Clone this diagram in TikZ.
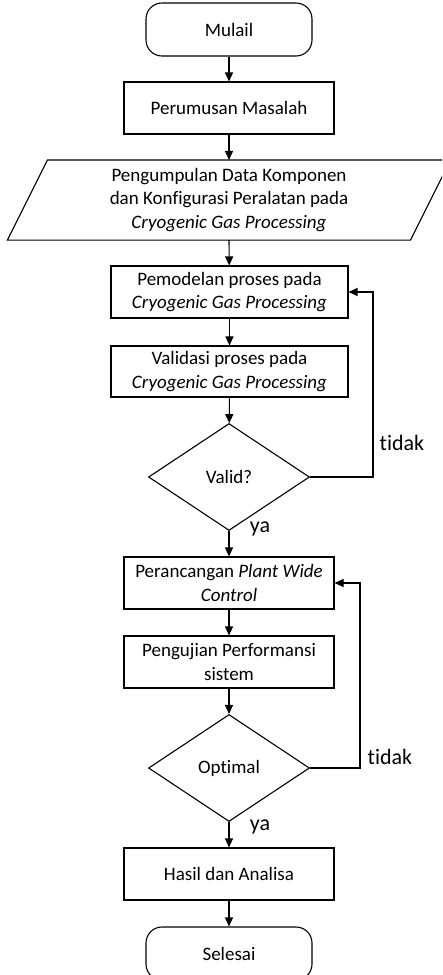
\documentclass[tikz,border=0pt]{standalone}
\usepackage{fontspec}
\setmainfont{Carlito}[Ligatures=NoCommon]
\usepackage{tikz}
\usetikzlibrary{arrows.meta,calc,shapes.geometric}

\begin{document}
\begin{tikzpicture}[x=1pt, y=-1pt, >={Triangle[width=8pt,length=9pt]},
    line width=1.1pt, font=\fontsize{19}{23.5}\selectfont,
    b/.style={draw, align=center, inner sep=0pt, minimum width=210pt, minimum height=52pt},
    term/.style={draw, rounded corners=16pt, inner sep=0pt, minimum width=166pt, minimum height=53pt},
    dec/.style={draw, diamond, inner sep=0pt, minimum width=161pt, minimum height=107pt},
    lbl/.style={font=\fontsize{22}{26}\selectfont, inner sep=0pt}]

    \useasboundingbox (0,0) rectangle (442,975);
    \clip (0,0) rectangle (442,975);

    \node[term] (start) at (229,29.5) {Mulail};
    \node[b] (rumus) at (229,108) {Perumusan Masalah};
    \node[align=center, inner sep=0pt, minimum width=402pt, minimum height=79pt] (data) at (229,200)
        {Pengumpulan Data Komponen\\dan Konfigurasi Peralatan pada\\\textit{Cryogenic Gas Processing}};
    \draw ($(data.south west)+(-20,0)$) -- ($(data.south east)+(-20,0)$)
        -- ($(data.north east)+(20,0)$) -- ($(data.north west)+(20,0)$) -- cycle;
    \node[b, minimum width=237pt] (model) at (229.5,292) {Pemodelan proses pada\\\textit{Cryogenic Gas Processing}};
    \node[b, minimum width=237pt, minimum height=51pt] (valid) at (229.5,371.5) {Validasi proses pada\\\textit{Cryogenic Gas Processing}};
    \node[dec] (cek1) at (229,477) {Valid?};
    \node[b] (rancang) at (229,583) {Perancangan \textit{Plant Wide}\\\textit{Control}};
    \node[b] (uji) at (229,662) {Pengujian Performansi\\sistem};
    \node[dec] (cek2) at (229,768) {Optimal};
    \node[b] (hasil) at (229,874) {Hasil dan Analisa};
    \node[term] (stop) at (229,953.5) {Selesai};

    \foreach \a/\c in {start/rumus, rumus/data, model/valid, valid/cek1, rancang/uji, uji/cek2, hasil/stop}
        \draw[->] (\a) -- (\c);
    \draw[->] (data.south -| rumus) -- (model);
    \draw[->] (cek1.south) -- (rancang.north -| cek1.south);
    \draw[->] (cek2.south) -- (hasil.north -| cek2.south);

    % loop back
    \coordinate (k1) at (373,477);
    \coordinate (k2) at (360,768);
    \draw[->] (cek1.east) -- (k1) |- (model.east);
    \draw[->] (cek2.east) -- (k2) |- (rancang.east);

    \node[lbl] (tidak1) at (402,443) {tidak};
    \node[lbl] (ya1) at (260,529) {ya};
    \node[lbl] (tidak2) at (390,757) {tidak};
    \node[lbl] (ya2) at (260,827) {ya};
\end{tikzpicture}
\end{document}
